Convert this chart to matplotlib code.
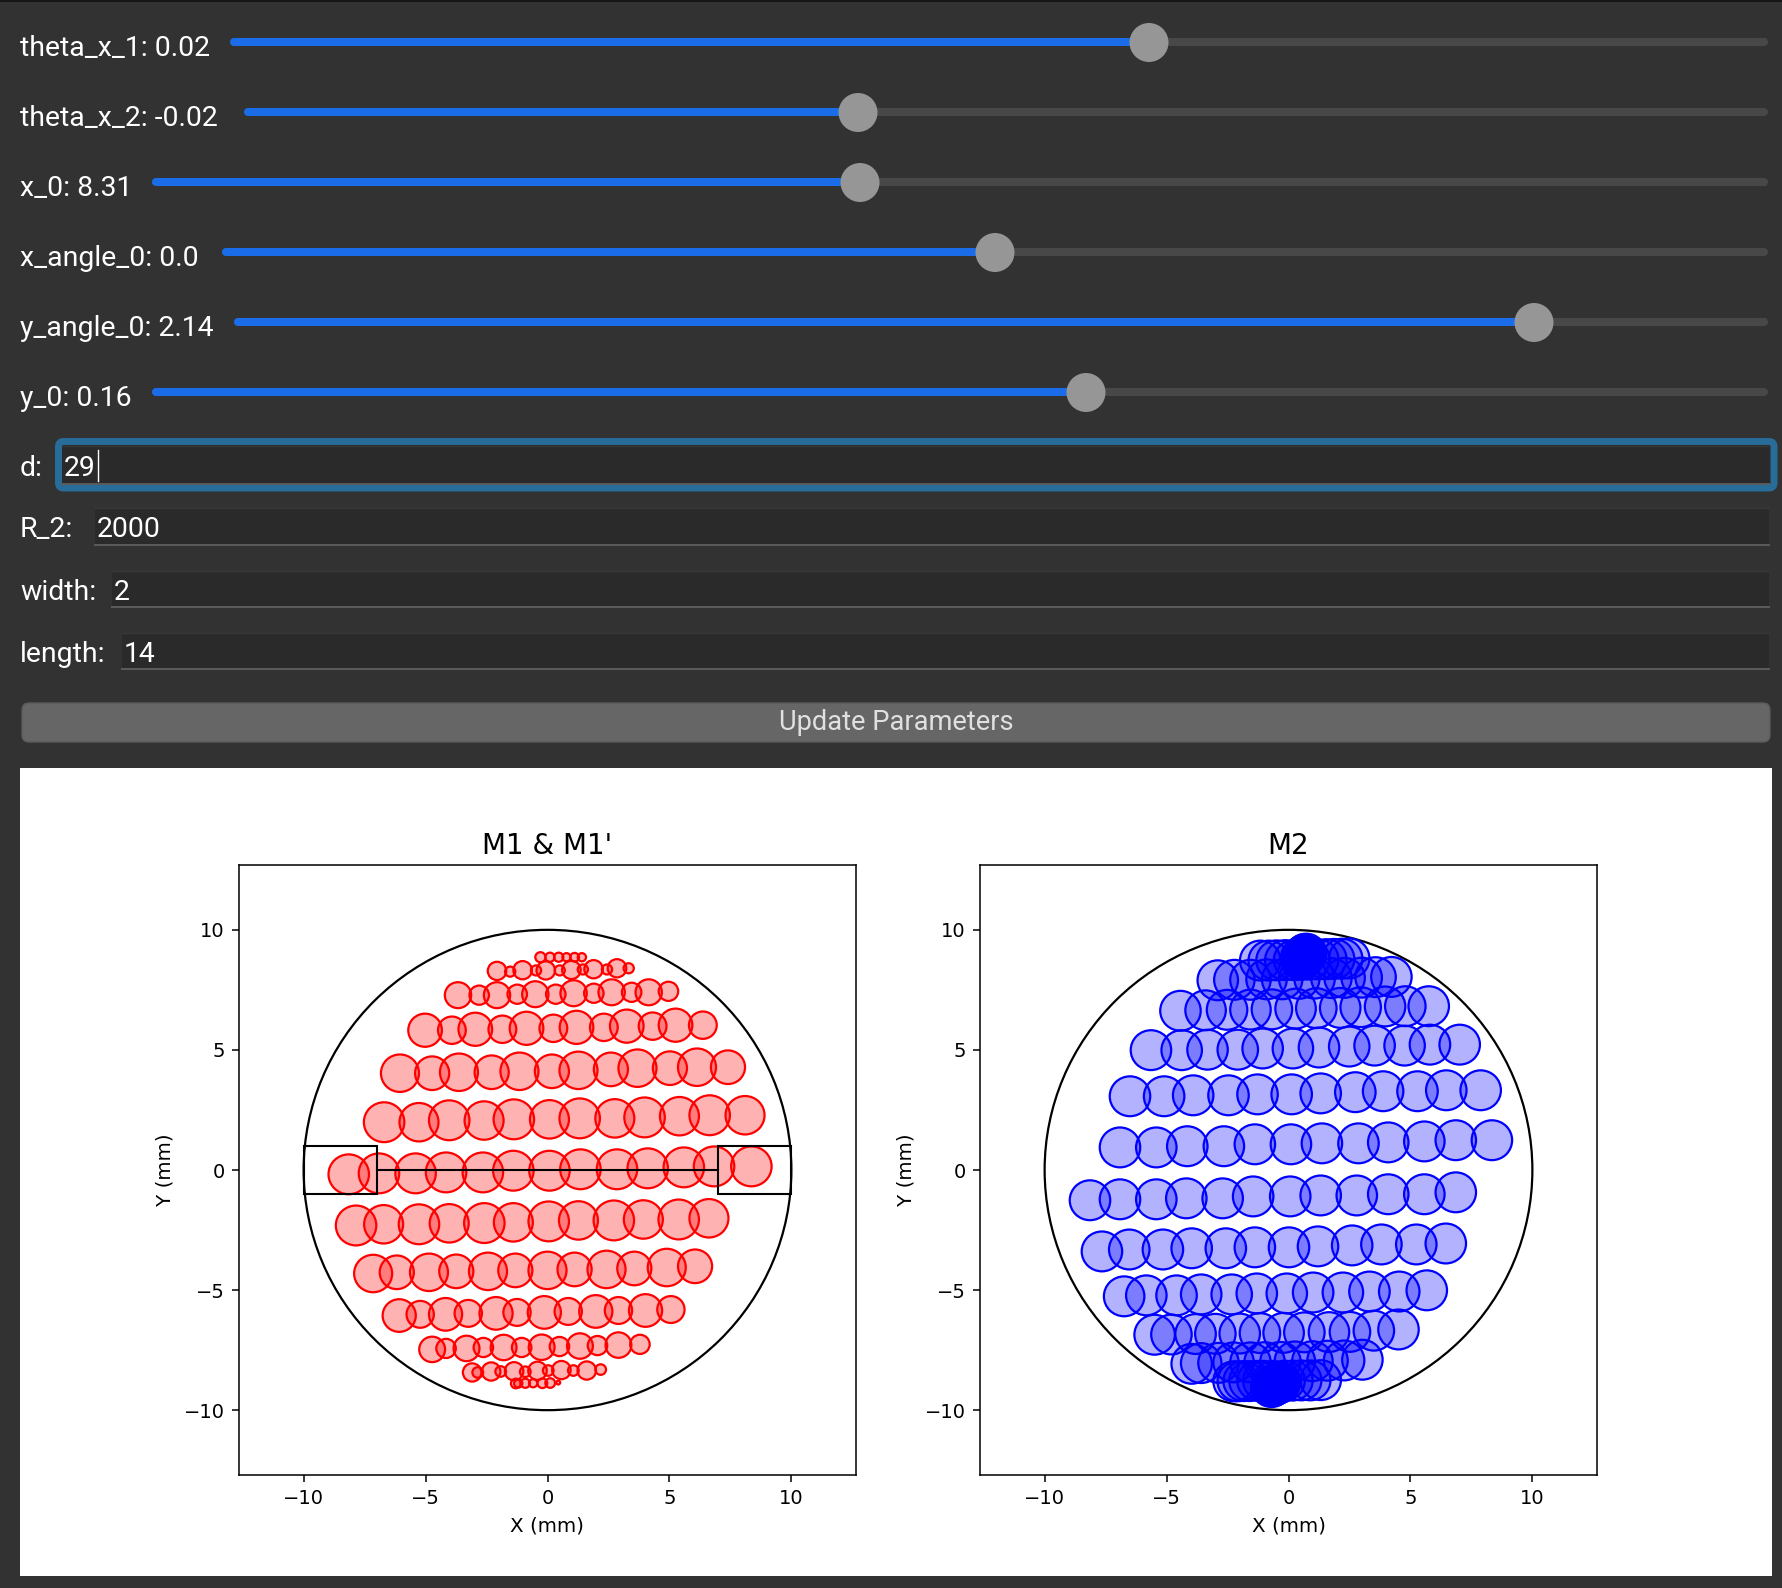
import matplotlib
matplotlib.use("Agg")
import matplotlib.pyplot as plt
from matplotlib.patches import Circle, Rectangle, FancyBboxPatch

W, H = 1782, 1588
BG = "#323232"

# ---------- data ----------
slider_labels = ["theta_x_1: 0.02", "theta_x_2: -0.02", "x_0: 8.31",
                 "x_angle_0: 0.0", "y_angle_0: 2.14", "y_0: 0.16"]
slider_start = [234, 248, 156, 226, 238, 156]
slider_thumb = [1149, 858, 860, 995, 1534, 1086]
slider_y = [42, 112, 182, 252, 322, 392]

field_labels = ["d:", "R_2:", "width:", "length:"]
field_values = ["29", "2000", "2", "14"]
field_x = [62, 95, 112, 122]
field_top = [446, 508, 571, 633]
field_bottom = [484, 545, 607, 669]

m1_rows_x = [
    [-0.29, 0.10, 0.46, 0.78, 1.11, 1.41],
    [-2.07, -1.53, -1.02, -0.47, -0.07, 0.50, 0.98, 1.45, 1.89, 2.44, 2.85, 3.33],
    [-3.67, -2.80, -2.07, -1.24, -0.50, 0.34, 1.07, 1.90, 2.63, 3.45, 4.15, 4.96],
    [-5.02, -3.92, -2.96, -1.85, -0.86, 0.24, 1.19, 2.31, 3.25, 4.31, 5.25, 6.37],
    [-6.05, -4.73, -3.63, -2.29, -1.15, 0.18, 1.27, 2.60, 3.69, 5.02, 6.13, 7.40],
    [-6.70, -5.27, -4.03, -2.60, -1.38, 0.08, 1.32, 2.76, 3.98, 5.41, 6.65, 8.10],
    [-8.15, -6.91, -5.41, -4.16, -2.65, -1.40, 0.08, 1.35, 2.85, 4.11, 5.59, 6.83, 8.36],
    [-7.85, -6.72, -5.27, -4.03, -2.59, -1.40, 0.05, 1.27, 2.72, 3.93, 5.38, 6.62],
    [-7.15, -6.18, -4.86, -3.74, -2.44, -1.32, 0.00, 1.11, 2.42, 3.56, 4.89, 6.05],
    [-6.08, -5.22, -4.18, -3.25, -2.11, -1.25, -0.13, 0.85, 1.98, 2.91, 4.02, 5.06],
    [-4.73, -4.16, -3.32, -2.63, -1.80, -1.06, -0.24, 0.49, 1.33, 2.05, 2.91, 3.79],
    [-3.09, -2.86, -2.31, -1.92, -1.37, -0.91, -0.41, 0.03, 0.57, 1.06, 1.61, 2.18],
    [-1.30, -1.20, -0.91, -0.59, -0.21, 0.11, 0.44],
]
m1_rows_y = [
    [8.86, 8.86, 8.86, 8.86, 8.86, 8.86],
    [8.29, 8.26, 8.32, 8.31, 8.31, 8.31, 8.33, 8.35, 8.36, 8.35, 8.40, 8.40],
    [7.28, 7.28, 7.28, 7.32, 7.32, 7.32, 7.36, 7.36, 7.40, 7.40, 7.40, 7.44],
    [5.82, 5.82, 5.86, 5.86, 5.90, 5.90, 5.94, 5.94, 5.99, 5.99, 6.03, 6.03],
    [4.03, 4.03, 4.07, 4.07, 4.11, 4.11, 4.15, 4.19, 4.24, 4.24, 4.28, 4.28],
    [1.99, 1.99, 2.07, 2.06, 2.11, 2.11, 2.15, 2.15, 2.19, 2.24, 2.28, 2.28],
    [-0.18, -0.14, -0.14, -0.10, -0.10, -0.03, -0.03, 0.03, 0.03, 0.07, 0.11, 0.15, 0.15],
    [-2.31, -2.26, -2.26, -2.22, -2.21, -2.18, -2.14, -2.10, -2.10, -2.06, -2.06, -2.01],
    [-4.31, -4.26, -4.26, -4.22, -4.22, -4.18, -4.18, -4.14, -4.14, -4.10, -4.06, -4.01],
    [-6.06, -6.01, -6.01, -5.97, -5.97, -5.93, -5.93, -5.89, -5.89, -5.85, -5.85, -5.81],
    [-7.47, -7.43, -7.43, -7.39, -7.39, -7.39, -7.38, -7.35, -7.33, -7.31, -7.29, -7.26],
    [-8.43, -8.43, -8.39, -8.39, -8.38, -8.40, -8.36, -8.35, -8.33, -8.35, -8.35, -8.31],
    [-8.89, -8.89, -8.88, -8.88, -8.88, -8.87, -8.85],
]
m1_rows_r = [
    [0.21, 0.19, 0.19, 0.17, 0.18, 0.17],
    [0.38, 0.21] * 6,
    [0.54, 0.40] * 6,
    [0.69, 0.57] * 6,
    [0.78, 0.70] * 6,
    [0.83, 0.80] * 6,
    [0.83] * 13,
    [0.83, 0.80] * 6,
    [0.78, 0.70] * 6,
    [0.68, 0.56] * 6,
    [0.53, 0.40] * 6,
    [0.38, 0.22] * 6,
    [0.20, 0.17, 0.19, 0.17, 0.20, 0.20, 0.08],
]

m2_radius = 0.83
m2_rows_x = [
    [0.52, 0.69, 0.55, 0.72, 0.58, 0.67, 0.61, 0.65, 0.55, 0.70, 0.63, 0.59],
    [-1.16, -0.81, -0.49, -0.13, 0.23, 0.54, 0.86, 1.22, 1.55, 1.87, 2.20, 2.49],
    [-2.90, -2.22, -1.56, -0.90, -0.26, 0.44, 1.07, 1.76, 2.30, 3.00, 3.57, 4.22],
    [-4.43, -3.40, -2.52, -1.56, -0.68, 0.29, 1.14, 2.12, 2.96, 3.96, 4.79, 5.75],
    [-5.64, -4.38, -3.32, -2.08, -1.06, 0.18, 1.25, 2.49, 3.53, 4.76, 5.80, 7.02],
    [-6.50, -5.10, -3.91, -2.46, -1.27, 0.13, 1.32, 2.74, 3.88, 5.29, 6.47, 7.88],
    [-6.91, -5.42, -4.15, -2.65, -1.38, 0.10, 1.37, 2.87, 4.09, 5.57, 6.86, 8.34],
    [-8.14, -6.91, -5.42, -4.19, -2.70, -1.45, 0.07, 1.32, 2.80, 4.09, 5.57, 6.86],
    [-7.65, -6.53, -5.15, -3.97, -2.57, -1.38, 0.02, 1.21, 2.61, 3.81, 5.24, 6.45],
    [-6.74, -5.83, -4.59, -3.58, -2.33, -1.30, -0.07, 1.01, 2.23, 3.32, 4.54, 5.67],
    [-5.49, -4.80, -3.81, -3.00, -2.00, -1.17, -0.20, 0.65, 1.66, 2.52, 3.50, 4.51],
    [-3.97, -3.58, -2.87, -2.25, -1.56, -0.98, -0.33, 0.26, 0.98, 1.60, 2.28, 3.03],
    [-2.25, -2.08, -1.84, -1.60, -1.27, -1.03, -0.63, -0.16, 0.16, 0.52, 0.89, 1.32],
    [-0.70, -0.40, -0.64, -0.34, -0.58, -0.44, -0.52, -0.48, -0.62, -0.37, -0.54, -0.42],
]
m2_rows_y = [
    [8.83, 8.99, 8.85, 9.01, 8.88, 8.96, 8.90, 8.94, 8.86, 8.98, 8.92, 8.89],
    [8.72, 8.72, 8.73, 8.74, 8.74, 8.75, 8.76, 8.77, 8.78, 8.79, 8.80, 8.81],
    [7.90, 7.92, 7.92, 7.94, 7.94, 7.96, 7.97, 7.99, 8.00, 8.01, 8.03, 8.04],
    [6.63, 6.65, 6.67, 6.68, 6.69, 6.72, 6.74, 6.75, 6.78, 6.81, 6.82, 6.82],
    [4.99, 4.99, 5.01, 5.01, 5.06, 5.06, 5.10, 5.14, 5.18, 5.18, 5.22, 5.22],
    [3.07, 3.07, 3.11, 3.11, 3.15, 3.15, 3.19, 3.24, 3.28, 3.28, 3.32, 3.32],
    [0.94, 0.94, 0.99, 0.99, 1.07, 1.07, 1.11, 1.11, 1.15, 1.19, 1.24, 1.24],
    [-1.26, -1.22, -1.22, -1.18, -1.18, -1.10, -1.10, -1.06, -1.06, -1.01, -1.01, -0.93],
    [-3.39, -3.31, -3.31, -3.26, -3.26, -3.22, -3.22, -3.18, -3.14, -3.10, -3.10, -3.06],
    [-5.26, -5.22, -5.22, -5.18, -5.18, -5.14, -5.14, -5.10, -5.10, -5.06, -5.06, -5.01],
    [-6.86, -6.85, -6.83, -6.82, -6.81, -6.79, -6.78, -6.76, -6.75, -6.74, -6.69, -6.64],
    [-8.07, -8.04, -8.03, -8.01, -8.01, -8.00, -7.99, -7.97, -7.96, -7.94, -7.93, -7.90],
    [-8.80, -8.80, -8.79, -8.79, -8.78, -8.78, -8.78, -8.77, -8.77, -8.76, -8.76, -8.75],
    [-9.04, -8.85, -9.00, -8.83, -8.96, -8.88, -8.92, -8.90, -8.98, -8.86, -8.94, -8.89],
]

mirror_radius = 10
slit_half_length = 7
slit_half_width = 1
ticks = [-10, -5, 0, 5, 10]
xlimit = 12.65
ylimit = 12.7

# ---------- figure and widget panel ----------
plt.rcParams["font.family"] = ["DejaVu Sans"]
UI_FONT = ["Roboto", "DejaVu Sans"]
UI_SIZE = 20.4

fig = plt.figure(figsize=(W / 100, H / 100), dpi=100, facecolor=BG)
ui = fig.add_axes([0, 0, 1, 1])
ui.set_xlim(0, W)
ui.set_ylim(H, 0)
ui.axis("off")

ui.add_patch(Rectangle((0, 0), W, 1.5, fc="#161616", ec="none"))

for label, x0, xt, y in zip(slider_labels, slider_start, slider_thumb, slider_y):
    ui.text(20, y + 6.5, label, color="white", family=UI_FONT, fontsize=UI_SIZE,
            va="center", ha="left")
    ui.plot([x0, 1764], [y, y], color="#484848", lw=5.8, solid_capstyle="round")
    ui.plot([x0, xt], [y, y], color="#1a6ce8", lw=5.8, solid_capstyle="round")
    ui.add_patch(Circle((xt, y + 0.5), 19.5, fc="#969696", ec="none", zorder=3))

# focus ring of the first field
ui.add_patch(FancyBboxPatch((58.5, 441.5), 1715.5, 46.5, boxstyle="round,pad=0,rounding_size=5",
                            fc="#2a2a2a", ec="#286c9a", lw=5))
for label, value, x0, top, bottom in zip(field_labels, field_values, field_x,
                                         field_top, field_bottom):
    mid = (top + bottom) / 2
    ui.text(20, mid + 3, label, color="white", family=UI_FONT, fontsize=UI_SIZE,
            va="center", ha="left")
    ui.add_patch(Rectangle((x0, top), 1769 - x0, bottom - top, fc="#2a2a2a", ec="none"))
    ui.plot([x0, 1769], [bottom, bottom], color="#5c5c5c", lw=1.4)
    ui.plot([x0, 1769], [top, top], color="#383838", lw=1)
    ui.text(x0 + 2, mid + 3, value, color="white", family=UI_FONT, fontsize=UI_SIZE,
            va="center", ha="left")
ui.plot([97.5, 97.5], [450, 481], color="white", lw=1)

ui.add_patch(FancyBboxPatch((22, 703), 1748, 39, boxstyle="round,pad=0,rounding_size=7",
                            fc="#666666", ec="#5a5a5a", lw=1))
ui.text(896, 723, "Update Parameters", color="#e0e0e0", family=UI_FONT, fontsize=19.6,
        va="center", ha="center")
ui.add_patch(Rectangle((20, 768), 1752, 808, fc="white", ec="none"))


# ---------- plots ----------
def make_axes(left, right, top, bottom, title):
    ax = fig.add_axes([left / W, 1 - bottom / H, (right - left) / W, (bottom - top) / H])
    ax.set_xlim(-xlimit, xlimit)
    ax.set_ylim(-ylimit, ylimit)
    ax.set_xticks(ticks)
    ax.set_yticks(ticks)
    ax.tick_params(labelsize=14, length=4.9, width=1.1, pad=5.5)
    ax.set_xlabel("X (mm)", fontsize=14.3, labelpad=6)
    ax.set_ylabel("Y (mm)", fontsize=14.3, labelpad=6.5)
    ax.set_title(title, fontsize=20, pad=8)
    for spine in ax.spines.values():
        spine.set_linewidth(1.1)
    ax.add_patch(Circle((0, 0), mirror_radius, fc="none", ec="black", lw=1.6))
    return ax


ax1 = make_axes(239, 856, 865, 1475, "M1 & M1'")
for xs, ys, rs in zip(m1_rows_x, m1_rows_y, m1_rows_r):
    for x, y, r in zip(xs, ys, rs):
        ax1.add_patch(Circle((x, y), r, fc=(1, 0, 0, 0.3), ec=(1, 0, 0, 1), lw=1.6))
for x0 in (-mirror_radius, slit_half_length):
    ax1.add_patch(Rectangle((x0, -slit_half_width), mirror_radius - slit_half_length,
                            2 * slit_half_width, fc="none", ec="black", lw=1.5, zorder=4))
ax1.plot([-slit_half_length, slit_half_length], [0, 0], color="black", lw=1.5, zorder=4)

ax2 = make_axes(980, 1597, 865, 1475, "M2")
for xs, ys in zip(m2_rows_x, m2_rows_y):
    for x, y in zip(xs, ys):
        ax2.add_patch(Circle((x, y), m2_radius, fc=(0, 0, 1, 0.3), ec=(0, 0, 1, 1), lw=1.6))

fig.savefig("out.png", dpi=100, facecolor=BG)
